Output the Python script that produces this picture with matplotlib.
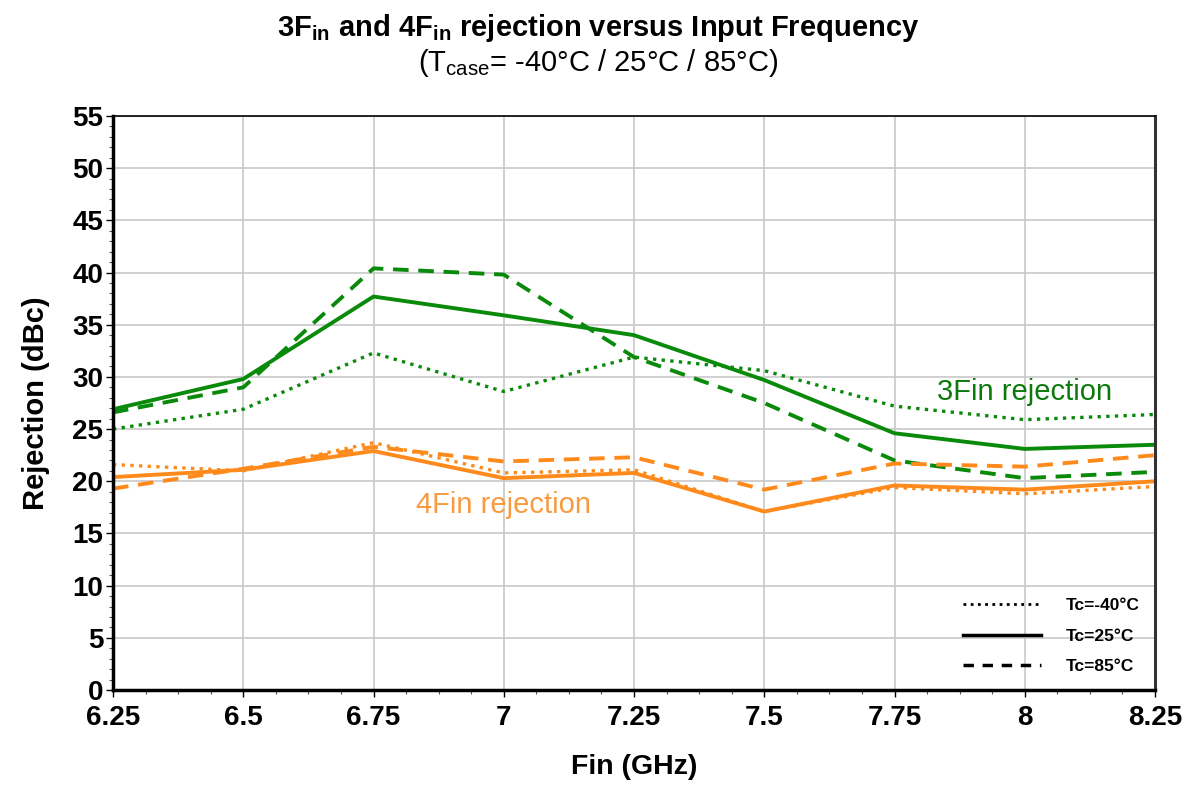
import matplotlib
matplotlib.use("Agg")
import matplotlib.pyplot as plt
from matplotlib.lines import Line2D
from matplotlib.ticker import MultipleLocator

plt.rcParams['font.family'] = ['Liberation Sans', 'DejaVu Sans']
plt.rcParams['mathtext.fontset'] = 'custom'
plt.rcParams['mathtext.rm'] = 'Liberation Sans'
plt.rcParams['mathtext.bf'] = 'Liberation Sans:bold'

# 输入频率 (GHz)
fin = [6.25, 6.5, 6.75, 7.0, 7.25, 7.5, 7.75, 8.0, 8.25]

# 3Fin 抑制 (dBc)
rej3_m40 = [25.0, 26.9, 32.3, 28.6, 31.9, 30.6, 27.2, 25.9, 26.4]
rej3_25 = [26.9, 29.8, 37.7, 35.9, 34.0, 29.7, 24.6, 23.1, 23.5]
rej3_85 = [26.6, 29.0, 40.4, 39.8, 31.9, 27.5, 22.0, 20.3, 20.9]

# 4Fin 抑制 (dBc)
rej4_m40 = [21.6, 21.0, 23.7, 20.8, 21.1, 17.1, 19.4, 18.8, 19.5]
rej4_25 = [20.4, 21.1, 22.9, 20.3, 20.8, 17.1, 19.6, 19.2, 20.0]
rej4_85 = [19.3, 21.2, 23.3, 21.9, 22.3, 19.2, 21.7, 21.4, 22.5]

temp_labels = ['Tc=-40°C', 'Tc=25°C', 'Tc=85°C']

green = '#0a8a0a'
orange = '#ff8a1c'

fig = plt.figure(figsize=(11.97, 7.85), dpi=100)
ax = fig.add_axes([113 / 1197, 1 - 690 / 785, (1155 - 113) / 1197, (690 - 116) / 785])

dotted = (0, (1, 1.6))
dashed = (0, (4, 2.5))
ax.plot(fin, rej3_m40, color=green, lw=2.4, linestyle=dotted)
ax.plot(fin, rej3_25, color=green, lw=2.8, linestyle='-')
ax.plot(fin, rej3_85, color=green, lw=2.8, linestyle=dashed)
ax.plot(fin, rej4_m40, color=orange, lw=2.4, linestyle=dotted)
ax.plot(fin, rej4_25, color=orange, lw=2.8, linestyle='-')
ax.plot(fin, rej4_85, color=orange, lw=2.8, linestyle=dashed)

ax.set_xlim(6.25, 8.25)
ax.set_ylim(0, 55)
ax.set_xticks(fin)
ax.set_xticklabels(['6.25', '6.5', '6.75', '7', '7.25', '7.5', '7.75', '8', '8.25'])
ax.set_yticks(range(0, 56, 5))
ax.xaxis.set_minor_locator(MultipleLocator(0.0625))
ax.yaxis.set_minor_locator(MultipleLocator(1))
ax.tick_params(axis='both', which='major', direction='out', length=5, width=1,
               labelsize=20)
ax.tick_params(axis='x', which='major', pad=6)
ax.tick_params(axis='y', which='major', pad=2)
ax.tick_params(axis='both', which='minor', direction='out', length=3, width=0.8,
               color='#555555')
for lab in ax.get_xticklabels() + ax.get_yticklabels():
    lab.set_fontweight('bold')
ax.grid(True, which='major', color='#c8c8c8', lw=1.2)
ax.set_axisbelow(True)

ax.spines['left'].set_linewidth(2.5)
ax.spines['bottom'].set_linewidth(2.5)
ax.spines['top'].set_linewidth(1.2)
ax.spines['right'].set_linewidth(2.2)
ax.spines['right'].set_color('#333333')

ax.set_xlabel('Fin (GHz)', fontsize=20.5, fontweight='bold', labelpad=16)
ax.set_ylabel('Rejection (dBc)', fontsize=21, fontweight='bold', labelpad=16)

ax.text(8.0, 28.6, '3Fin rejection', color='#0b7a0b', fontsize=21,
        ha='center', va='center')
ax.text(7.0, 17.7, '4Fin rejection', color='#f99a3e', fontsize=21,
        ha='center', va='center')

handles = [Line2D([], [], color='black', lw=2, linestyle=dotted),
           Line2D([], [], color='black', lw=2.5, linestyle='-'),
           Line2D([], [], color='black', lw=2.5, linestyle=(0, (3, 2.5)))]
leg = ax.legend(handles, temp_labels, loc='lower right', frameon=False,
                handlelength=4.5, prop={'weight': 'bold', 'size': 12.5},
                labelspacing=0.9, handletextpad=1.4, borderaxespad=0.5)

fig.text(0.5, 1 - 28 / 785,
         r'3F$_{\mathbf{in}}$ and 4F$_{\mathbf{in}}$ rejection versus Input Frequency',
         ha='center', va='center', fontsize=21, fontweight='bold')
fig.text(0.5, 1 - 63 / 785, r'(T$_{\mathrm{case}}$= -40°C / 25°C / 85°C)',
         ha='center', va='center', fontsize=21)

fig.savefig('out.png', dpi=100)
